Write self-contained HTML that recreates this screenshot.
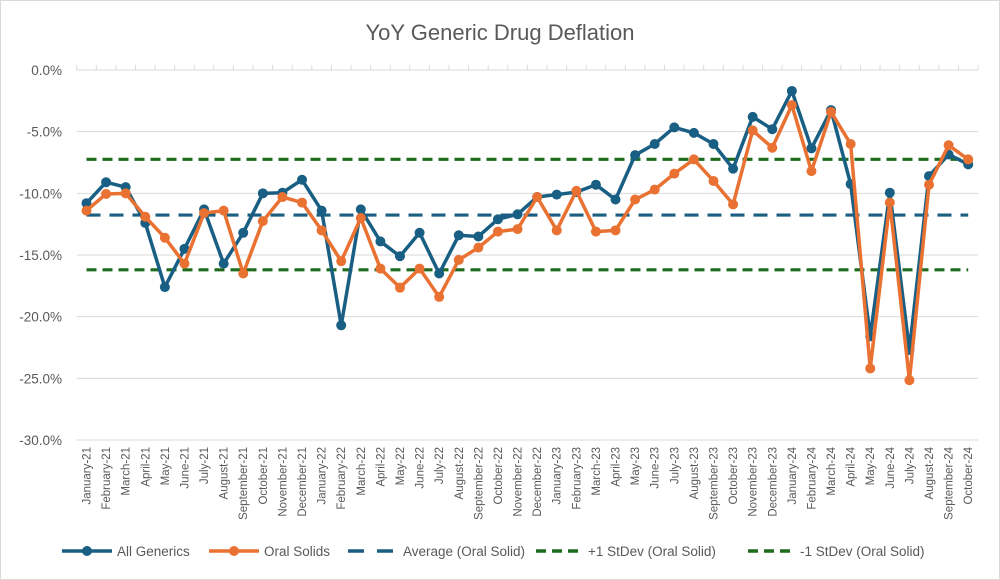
<!DOCTYPE html>
<html><head><meta charset="utf-8">
<style>
html,body{margin:0;padding:0;background:#fff;}
svg{display:block;font-family:"Liberation Sans",Arial,sans-serif;}
</style></head>
<body>
<svg id="chart" width="1000" height="580" viewBox="0 0 1000 580" xmlns="http://www.w3.org/2000/svg">
<rect x="0.5" y="0.5" width="999" height="579" fill="#fff" stroke="#d9d9d9"/>
<text x="500" y="40" text-anchor="middle" font-size="22" fill="#595959">YoY Generic Drug Deflation</text>
<g id="grid"></g>
<g id="ylabels"></g>
<g id="xlabels"></g>
<g id="series"></g>
<g id="legend"></g>
</svg>
<script>
const categories = ["January-21","February-21","March-21","April-21","May-21","June-21","July-21","August-21","September-21","October-21","November-21","December-21","January-22","February-22","March-22","April-22","May-22","June-22","July-22","August-22","September-22","October-22","November-22","December-22","January-23","February-23","March-23","April-23","May-23","June-23","July-23","August-23","September-23","October-23","November-23","December-23","January-24","February-24","March-24","April-24","May-24","June-24","July-24","August-24","September-24","October-24"];
const allGenerics = [-10.8,-9.1,-9.5,-12.4,-17.6,-14.5,-11.3,-15.7,-13.2,-10.0,-9.95,-8.9,-11.4,-20.7,-11.3,-13.9,-15.1,-13.2,-16.5,-13.4,-13.5,-12.1,-11.7,-10.3,-10.1,-9.9,-9.3,-10.5,-6.9,-6.0,-4.65,-5.1,-6.0,-8.0,-3.8,-4.8,-1.7,-6.35,-3.25,-9.25,-21.6,-9.95,-22.7,-8.6,-6.85,-7.65];
const oralSolids = [-11.4,-10.05,-10.0,-11.9,-13.6,-15.7,-11.6,-11.4,-16.5,-12.25,-10.3,-10.75,-13.0,-15.5,-12.0,-16.1,-17.65,-16.1,-18.4,-15.4,-14.4,-13.1,-12.9,-10.3,-13.0,-9.8,-13.1,-13.0,-10.5,-9.7,-8.4,-7.25,-9.0,-10.9,-4.9,-6.3,-2.85,-8.2,-3.4,-6.0,-24.2,-10.75,-25.15,-9.3,-6.1,-7.25];
const averageOral = -11.76;
const plusStdev = -7.24;
const minusStdev = -16.2;
const yTicks = [0,-5,-10,-15,-20,-25,-30];
const yTickLabels = ["0.0%","-5.0%","-10.0%","-15.0%","-20.0%","-25.0%","-30.0%"];

const NS="http://www.w3.org/2000/svg";
const plotL=76.7, plotR=978, plotT=70, plotB=440;
const step=(plotR-plotL)/categories.length;
function xs(i){return plotL+step*(i+0.5);}
function ys(v){return plotT+(0-v)/30*(plotB-plotT);}
function mk(tag,attrs,parent){const e=document.createElementNS(NS,tag);for(const k in attrs)e.setAttribute(k,attrs[k]);parent.appendChild(e);return e;}

const grid=document.getElementById('grid');
yTicks.forEach((t,i)=>{
  const l=mk('line',{x1:plotL,x2:plotR,y1:ys(t),y2:ys(t),stroke:'#d9d9d9','stroke-width':1},grid);
  
  
  const tx=mk('text',{x:62,y:ys(t)+5,'text-anchor':'end','font-size':13.5,fill:'#595959'},document.getElementById('ylabels'));
  tx.textContent=yTickLabels[i];
  
  
});
for(let i=0;i<=categories.length;i++){
  const tk=mk('line',{x1:plotL+step*i,x2:plotL+step*i,y1:plotT,y2:plotT-5,stroke:'#d9d9d9'},grid);
  
  
}
const xl=document.getElementById('xlabels');
categories.forEach((c,i)=>{
  const x=xs(i)+4;
  const t=mk('text',{x:x,y:447,'text-anchor':'end','font-size':11.5,fill:'#595959',transform:`rotate(-90 ${x} 447)`},xl);
  t.textContent=c;
  
  
});
const sg=document.getElementById('series');
function hline(v,color,dash,name){
  const l=mk('line',{x1:xs(0),x2:xs(categories.length-1),y1:ys(v),y2:ys(v),stroke:color,'stroke-width':3.2,'stroke-dasharray':dash},sg);
  
  
}
hline(plusStdev,'#1e6b1e','10 6','plus-stdev-line');
hline(minusStdev,'#1e6b1e','10 6','minus-stdev-line');
hline(averageOral,'#1b5e82','14 9','average-line');
function series(vals,color,name){
  const g=mk('g',{},sg);
  
  
  const p=mk('polyline',{points:vals.map((v,i)=>xs(i)+','+ys(v)).join(' '),fill:'none',stroke:color,'stroke-width':3.5,'stroke-linejoin':'round'},g);
  
  
  vals.forEach((v,i)=>{
    const c=mk('circle',{cx:xs(i),cy:ys(v),r:5,fill:color},g);
    
    
  });
}
series(allGenerics,'#195e83','all-generics');
series(oralSolids,'#e97132','oral-solids');

const lg=document.getElementById('legend');
const ly=551;
function legItem(x1,x2,tx,color,dash,marker,label,name){
  const g=mk('g',{},lg);
  
  
  const ln=mk('line',{x1:x1,x2:x2,y1:ly,y2:ly,stroke:color,'stroke-width':3.5},g);
  if(dash)ln.setAttribute('stroke-dasharray',dash);
  if(marker)mk('circle',{cx:(x1+x2)/2,cy:ly,r:5,fill:color},g);
  const t=mk('text',{x:tx,y:ly+5,'font-size':13.5,fill:'#595959'},g);
  t.textContent=label;
}
legItem(62,112,117,'#195e83','',true,'All Generics','legend-all-generics');
legItem(209,259,264,'#e97132','',true,'Oral Solids','legend-oral-solids');
legItem(348,394,403,'#1b5e82','16 13',false,"Average (Oral Solid)",'legend-average');
legItem(536,580,588,'#1e6b1e','10 6',false,"+1 StDev (Oral Solid)",'legend-plus-stdev');
legItem(748,792,800,'#1e6b1e','10 6',false,"-1 StDev (Oral Solid)",'legend-minus-stdev');
</script>
</body></html>
